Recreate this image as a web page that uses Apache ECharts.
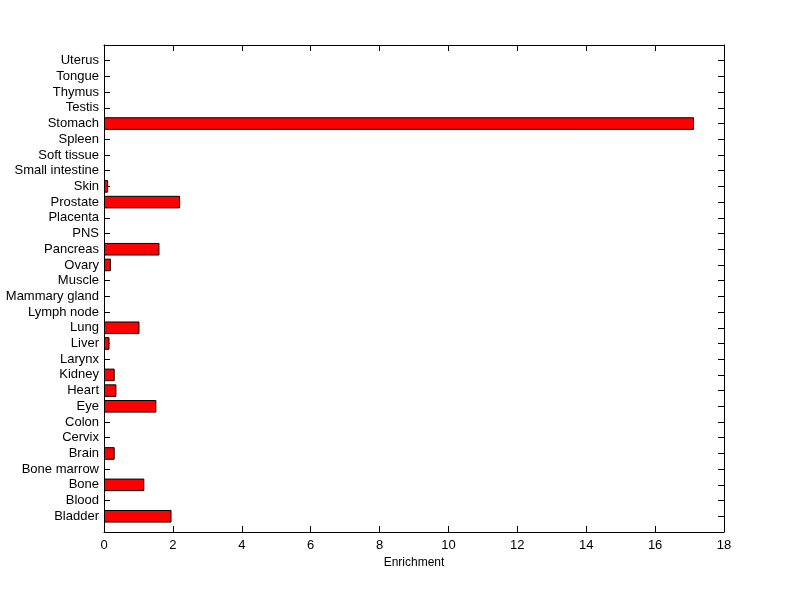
<!DOCTYPE html>
<html>
<head>
<meta charset="utf-8">
<script src="https://cdn.jsdelivr.net/npm/echarts@6/dist/echarts.min.js"></script>
<style>html,body{margin:0;padding:0;background:#fff;}#c{width:800px;height:599px;}</style>
</head>
<body>
<div id="c"></div>
<script>
const categories = ["Bladder","Blood","Bone","Bone marrow","Brain","Cervix","Colon","Eye","Heart","Kidney","Larynx","Liver","Lung","Lymph node","Mammary gland","Muscle","Ovary","Pancreas","PNS","Placenta","Prostate","Skin","Small intestine","Soft tissue","Spleen","Stomach","Testis","Thymus","Tongue","Uterus"];
const enrichment = [1.96,0,1.17,0,0.31,0,0,1.52,0.36,0.31,0,0.16,1.03,0,0,0,0.20,1.61,0,0,2.21,0.12,0,0,0,17.13,0,0,0,0];
const xTicks = [0,2,4,6,8,10,12,14,16,18];

const cats = [""].concat(categories, [""]);
const vals = ["-"].concat(enrichment.map(v => v > 0 ? v : "-"), ["-"]);
const font = "Liberation Sans, Arial, sans-serif";

const chart = echarts.init(document.getElementById('c'), null, {renderer:'canvas'});
const yCommon = {
  type:'category', data: cats, boundaryGap:false,
  axisLine:{show:true, onZero:false, lineStyle:{color:'#000', width:1}},
  axisTick:{show:true, inside:true, length:6, interval:0, lineStyle:{color:'#000'}},
  splitLine:{show:false}
};
const xCommon = {
  type:'value', min:xTicks[0], max:xTicks[xTicks.length-1], interval:2,
  axisLine:{show:true, onZero:false, lineStyle:{color:'#000', width:1}},
  axisTick:{show:true, inside:true, length:6, lineStyle:{color:'#000'}},
  splitLine:{show:false}
};
chart.setOption({
  animation:false,
  backgroundColor:'#fff',
  grid:{left:104, right:76, top:45, bottom:67, show:false},
  xAxis:[
    Object.assign({}, xCommon, {position:'bottom',
      name:'Enrichment', nameLocation:'middle', nameGap:25,
      nameTextStyle:{color:'#000', fontSize:12, fontFamily:font},
      axisLabel:{color:'#000', fontSize:13, fontFamily:font, margin:7}}),
    Object.assign({}, xCommon, {position:'top', axisLabel:{show:false}})
  ],
  yAxis:[
    Object.assign({}, yCommon, {position:'left',
      axisLabel:{color:'#000', fontSize:13, fontFamily:font, interval:0, margin:5}}),
    Object.assign({}, yCommon, {position:'right', axisLabel:{show:false}})
  ],
  series:[{
    type:'bar', data: vals, xAxisIndex:0, yAxisIndex:0,
    barWidth:'80%',
    itemStyle:{color:'#ff0000', borderColor:'#000', borderWidth:1}
  }]
});
</script>
</body>
</html>
